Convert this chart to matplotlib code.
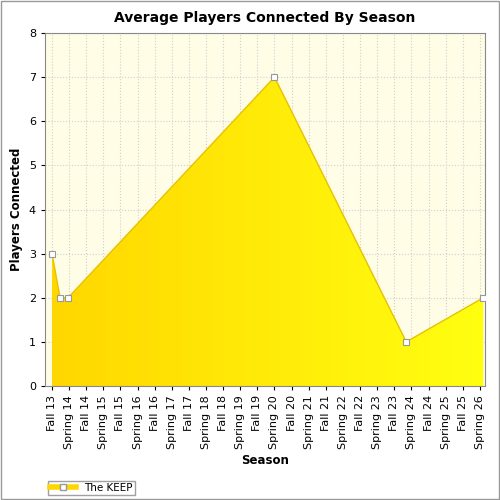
import matplotlib
matplotlib.use("Agg")
import matplotlib.pyplot as plt
import numpy as np
from matplotlib.patches import Polygon, Rectangle
from matplotlib.lines import Line2D
from matplotlib.colors import LinearSegmentedColormap

seasons = ["Fall 13","Spring 14","Fall 14","Spring 15","Fall 15","Spring 16","Fall 16","Spring 17",
           "Fall 17","Spring 18","Fall 18","Spring 19","Fall 19","Spring 20","Fall 20","Spring 21",
           "Fall 21","Spring 22","Fall 22","Spring 23","Fall 23","Spring 24","Fall 24","Spring 25",
           "Fall 25","Spring 26"]
point_pos = [0, 0.47, 0.94, 13, 20.7, 25.2]
players = [3, 2, 2, 7, 1, 2]

fig = plt.figure(figsize=(5,5), dpi=100)
fig.patch.set_facecolor("white")
ax = fig.add_axes([0.09, 0.228, 0.88, 0.706])
ax.set_facecolor("#FFFDE6")
ax.set_xlim(-0.41, 25.3)
ax.set_ylim(0, 8)

poly_x = [point_pos[0]] + point_pos + [point_pos[-1]]
poly_y = [0] + players + [0]
poly = Polygon(list(zip(poly_x, poly_y)), closed=True, facecolor="none", edgecolor="none")
ax.add_patch(poly)
grad = np.linspace(0, 1, 256).reshape(1, -1)
cmap = LinearSegmentedColormap.from_list("g", ["#FFD700", "#FFFF10"])
im = ax.imshow(grad, extent=[point_pos[0], point_pos[-1], 0, 8], aspect="auto", cmap=cmap, zorder=2)
im.set_clip_path(poly)
ax.plot(point_pos, players, color="#E6C200", lw=1, zorder=3)
ax.plot(point_pos, players, ls="none", marker="s", ms=5, mfc="white", mec="#999999", mew=0.8, zorder=4)

ax.set_xticks(range(len(seasons)))
ax.set_xticklabels(seasons, rotation=90, fontsize=8)
ax.set_yticks(range(9))
ax.tick_params(labelsize=8, length=3)
ax.grid(True, ls=":", color="#D0D0D0", lw=0.8)
ax.set_axisbelow(True)
for s in ax.spines.values():
    s.set_color("#888888")
ax.set_title("Average Players Connected By Season", fontsize=10, fontweight="bold", pad=8)
ax.set_xlabel("Season", fontsize=8.5, fontweight="bold")
ax.set_ylabel("Players Connected", fontsize=8.5, fontweight="bold")

fig.patches.append(Rectangle((0.002,0.002),0.996,0.996, transform=fig.transFigure, fill=False, edgecolor="#999999", lw=1))
handle = Line2D([0],[0], color="#FFD700", lw=4, marker="s", ms=5, mfc="white", mec="#999999")
leg = fig.legend([handle], ["The KEEP"], loc="lower left", bbox_to_anchor=(0.085, 0.0), fontsize=7.5,
                 frameon=True, fancybox=False, edgecolor="#888888", handlelength=2.5, borderpad=0.2)
fig.savefig("out.png", dpi=100)
